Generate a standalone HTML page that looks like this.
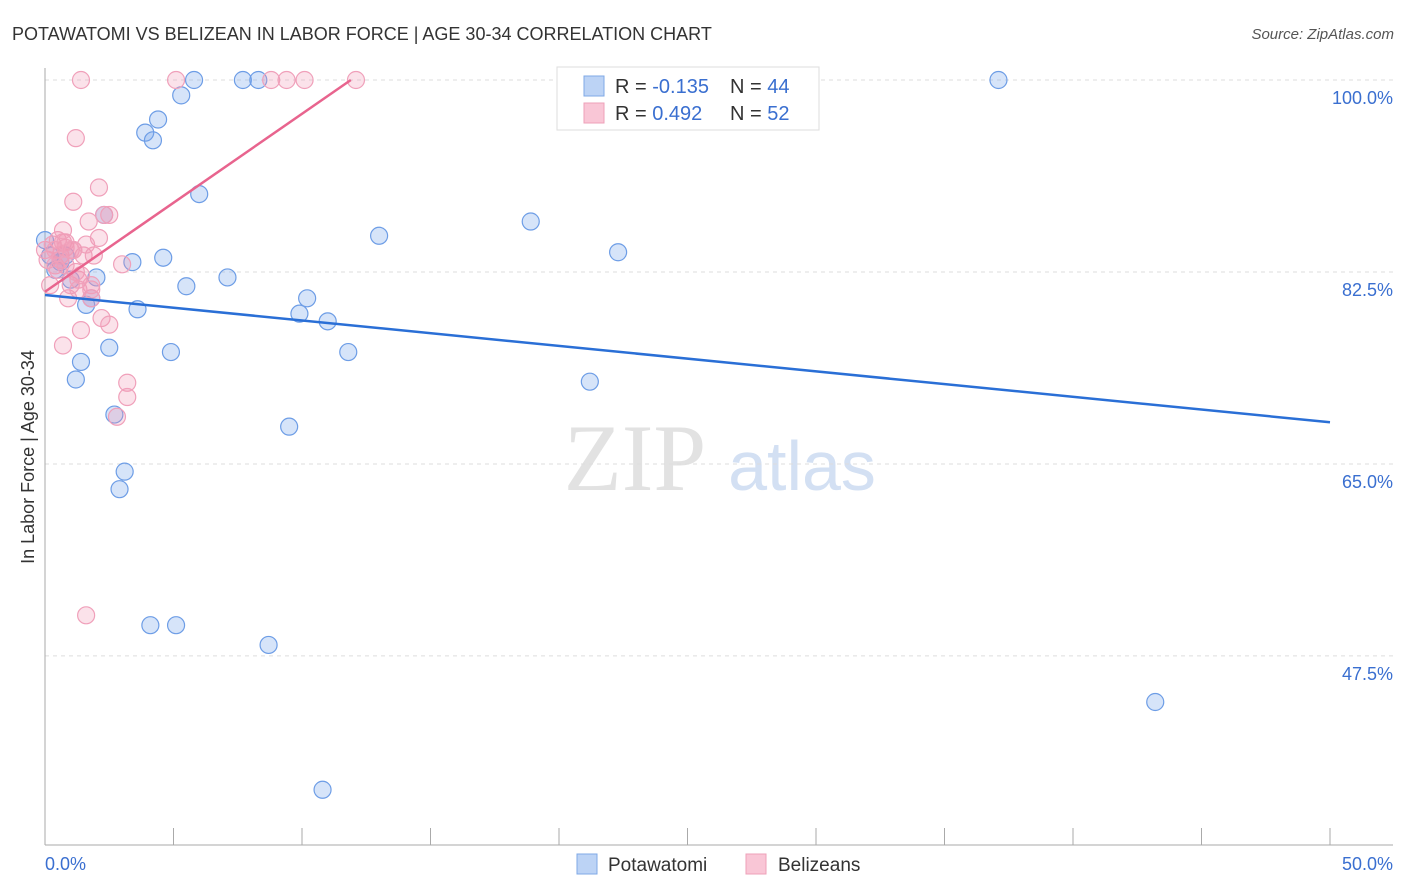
<!DOCTYPE html>
<html><head><meta charset="utf-8"><style>
body{margin:0;background:#fff;font-family:"Liberation Sans",sans-serif;}
svg{display:block}
</style></head><body>
<svg width="1406" height="892" id="chart">
<text x="12" y="40" font-size="18" fill="#333">POTAWATOMI VS BELIZEAN IN LABOR FORCE | AGE 30-34 CORRELATION CHART</text>
<text x="1394" y="39" font-size="15" fill="#555" font-style="italic" text-anchor="end">Source: ZipAtlas.com</text>
<text x="34" y="457" font-size="18" fill="#333" text-anchor="middle" transform="rotate(-90 34 457)">In Labor Force | Age 30-34</text>
<g>
<text x="635" y="490" font-size="95" fill="#e2e2e2" font-family="Liberation Serif" text-anchor="middle">ZIP</text>
<text x="802" y="490" font-size="70" fill="#d3e0f3" text-anchor="middle">atlas</text>
</g>
<g id="grid"></g><g id="axes"></g><g id="marks"></g>
<g>
<rect x="557" y="67" width="262" height="63" fill="#fff" stroke="#ddd"/>
<rect x="584" y="76" width="20" height="20" fill="#bcd3f5" stroke="#7fa8e6"/>
<rect x="584" y="103" width="20" height="20" fill="#f9c6d6" stroke="#eea0b8"/>
<text x="615" y="93" font-size="20" fill="#333">R = <tspan fill="#3a6fd0">-0.135</tspan></text>
<text x="730" y="93" font-size="20" fill="#333">N = <tspan fill="#3a6fd0">44</tspan></text>
<text x="615" y="120" font-size="20" fill="#333">R = <tspan fill="#3a6fd0"> 0.492</tspan></text>
<text x="730" y="120" font-size="20" fill="#333">N = <tspan fill="#3a6fd0">52</tspan></text>
</g>
<g>
<rect x="577" y="854" width="20" height="20" fill="#bcd3f5" stroke="#7fa8e6"/>
<text x="608" y="871" font-size="19" fill="#333">Potawatomi</text>
<rect x="746" y="854" width="20" height="20" fill="#f9c6d6" stroke="#eea0b8"/>
<text x="778" y="871" font-size="19" fill="#333">Belizeans</text>
</g>
</svg>
<script>
const yTicks=[100,82.5,65,47.5];
const yTickLabels=["100.0%","82.5%","65.0%","47.5%"];
const xTickLabels=["0.0%","50.0%"];
const potawatomi=[[0,85.4],[0.2,84.0],[0.4,82.7],[0.6,83.4],[0.8,84.0],[1.0,81.8],[1.2,72.7],[1.4,74.3],[1.6,79.5],[1.8,80.1],[2.0,82.0],[2.3,87.7],[2.5,75.6],[2.7,69.5],[2.9,62.7],[3.1,64.3],[3.4,83.4],[3.6,79.1],[3.9,95.2],[4.1,50.3],[4.2,94.5],[4.4,96.4],[4.6,83.8],[4.9,75.2],[5.1,50.3],[5.3,98.6],[5.5,81.2],[5.8,100],[6.0,89.6],[7.1,82.0],[7.7,100],[8.3,100],[8.7,48.5],[9.5,68.4],[9.9,78.7],[10.2,80.1],[10.8,35.3],[11.0,78.0],[11.8,75.2],[13.0,85.8],[18.9,87.1],[21.2,72.5],[22.3,84.3],[37.1,100],[43.2,43.3]];
const belizeans=[[0,84.5],[0.1,83.6],[0.3,85.0],[0.4,83.1],[0.5,85.4],[0.6,84.0],[0.7,75.8],[0.7,85.2],[0.8,84.7],[0.9,80.1],[1.0,81.3],[1.1,88.9],[1.1,84.5],[1.2,94.7],[1.3,81.8],[1.4,77.2],[1.4,100],[1.5,84.0],[1.6,51.2],[1.7,87.1],[1.8,80.1],[1.8,81.3],[1.9,84.0],[2.1,90.2],[2.1,85.6],[2.2,78.3],[2.3,87.7],[2.5,87.7],[2.5,77.7],[2.8,69.3],[3.0,83.2],[3.2,72.4],[3.2,71.1],[5.1,100],[8.8,100],[9.4,100],[10.1,100],[12.1,100],[0.2,81.3],[0.4,84.5],[0.6,83.6],[0.8,85.2],[1.0,84.5],[1.2,82.5],[1.3,80.9],[1.4,82.2],[1.8,80.9],[0.7,86.3],[0.8,83.1],[1.1,84.5],[0.5,82.7],[1.6,85.0]];
const blueTrend=[[0,80.4],[50,68.8]];
const pinkTrend=[[0,80.7],[11.9,100]];

const NS="http://www.w3.org/2000/svg";
const X=v=>45+v*25.7;
const Y=v=>80+(100-v)*10.97;
function mk(tag,attrs,parent){const e=document.createElementNS(NS,tag);for(const k in attrs)e.setAttribute(k,attrs[k]);parent.appendChild(e);return e;}
const grid=document.getElementById('grid'),axes=document.getElementById('axes'),marks=document.getElementById('marks');
yTicks.forEach((t,i)=>{
  const l=mk('line',{x1:45,x2:1393,y1:Y(t),y2:Y(t),stroke:'#ddd','stroke-dasharray':'4,4'},grid);
  
  
  const tx=mk('text',{x:1393,y:Y(t)+24,'font-size':18,fill:'#3a6fd0','text-anchor':'end'},axes);
  tx.textContent=yTickLabels[i];
  
  
});
const ax=mk('line',{x1:45,x2:45,y1:68,y2:845,stroke:'#aaa'},axes);


const bx=mk('line',{x1:45,x2:1393,y1:845,y2:845,stroke:'#aaa'},axes);


for(let i=0;i<=10;i++){
  const t=mk('line',{x1:X(i*5),x2:X(i*5),y1:828,y2:845,stroke:'#aaa'},axes);
  
  
}
[[0,'start'],[50,'end']].forEach((p,i)=>{
  const tx=mk('text',{x:p[0]===0?45:1393,y:870,'font-size':18,fill:'#3a6fd0','text-anchor':p[1]},axes);
  tx.textContent=xTickLabels[i];
  
  
});
potawatomi.forEach(d=>{
  const c=mk('circle',{cx:X(d[0]),cy:Y(d[1]),r:8.5,fill:'rgba(120,165,235,0.3)',stroke:'#6d9de6','stroke-width':1.2},marks);
  
  
});
belizeans.forEach(d=>{
  const c=mk('circle',{cx:X(d[0]),cy:Y(d[1]),r:8.5,fill:'rgba(242,150,180,0.28)',stroke:'#f0a0ba','stroke-width':1.2},marks);
  
  
});
const bl=mk('line',{x1:X(blueTrend[0][0]),y1:Y(blueTrend[0][1]),x2:X(blueTrend[1][0]),y2:Y(blueTrend[1][1]),stroke:'#2a6fd6','stroke-width':2.5},marks);


const pl=mk('line',{x1:X(pinkTrend[0][0]),y1:Y(pinkTrend[0][1]),x2:X(pinkTrend[1][0]),y2:Y(pinkTrend[1][1]),stroke:'#e8648e','stroke-width':2.5},marks);


</script>
</body></html>
